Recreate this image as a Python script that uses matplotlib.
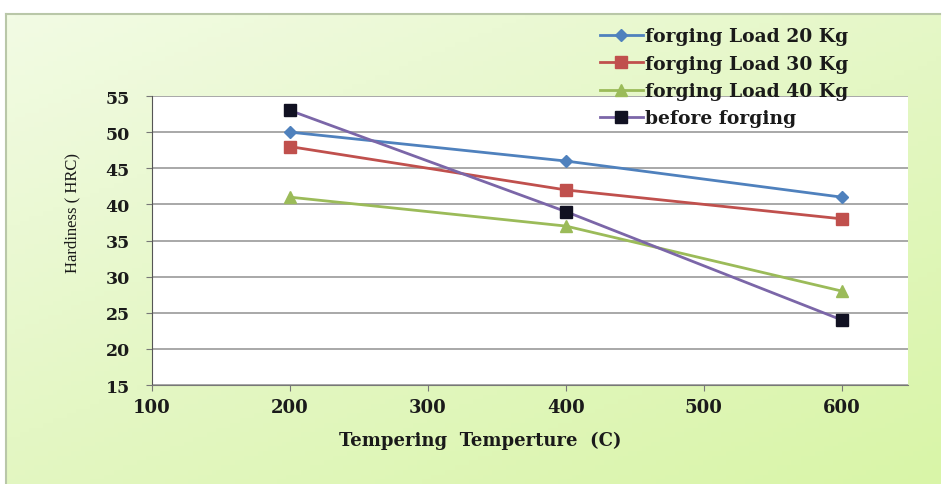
import numpy as np
import matplotlib.pyplot as plt
from matplotlib.colors import LinearSegmentedColormap

temps = [200, 400, 600]
load_20 = [50, 46, 41]
load_30 = [48, 42, 38]
load_40 = [41, 37, 28]
before = [53, 39, 24]
labels = ['forging Load 20 Kg', 'forging Load 30 Kg', 'forging Load 40 Kg', 'before forging']
x_ticks = [100, 200, 300, 400, 500, 600]
y_ticks = [15, 20, 25, 30, 35, 40, 45, 50, 55]

plt.rcParams['font.family'] = 'DejaVu Serif'
plt.rcParams['font.weight'] = 'bold'
plt.rcParams['xtick.labelsize'] = 13
plt.rcParams['ytick.labelsize'] = 12.5

fig = plt.figure(figsize=(9.44, 4.85), dpi=100)
fig.patch.set_facecolor('white')

# green gradient background of the chart picture
bg = fig.add_axes([0.006, 0.0, 0.99, 0.969])
cmap = LinearSegmentedColormap.from_list('bg', ['#f2fbe4', '#e4f7c4', '#d9f5a8'])
gx, gy = np.meshgrid(np.linspace(0, 1, 200), np.linspace(0, 1, 100))
bg.imshow(0.45 * gx + 0.55 * gy, cmap=cmap, aspect='auto', extent=[0, 1, 0, 1], origin='upper')
bg.set_xlim(0, 1)
bg.set_ylim(0, 1)
bg.set_xticks([])
bg.set_yticks([])
for s in ['top', 'left']:
    bg.spines[s].set_color('#b9c7a8')
    bg.spines[s].set_linewidth(1.5)
for s in ['bottom', 'right']:
    bg.spines[s].set_visible(False)

ax = fig.add_axes([0.161, 0.204, 0.801, 0.596])
ax.set_facecolor('white')

ax.plot(temps, load_20, color='#4f81bd', lw=2, marker='D', ms=6, mfc='#4f81bd', mec='#4f81bd', label=labels[0])
ax.plot(temps, load_30, color='#c0504d', lw=2, marker='s', ms=8, mfc='#c0504d', mec='#c0504d', label=labels[1])
ax.plot(temps, load_40, color='#9bbb59', lw=2, marker='^', ms=9, mfc='#9bbb59', mec='#9bbb59', label=labels[2])
ax.plot(temps, before, color='#7b66a8', lw=2, marker='s', ms=9, mfc='#111122', mec='#111122', label=labels[3])

ax.set_xlim(100, 648)
ax.set_ylim(15, 55)
ax.set_xticks(x_ticks)
ax.set_yticks(y_ticks)
ax.tick_params(axis='both', length=4, color='#777777', labelcolor='#1a1a1a')
ax.tick_params(axis='x', pad=5)
ax.tick_params(axis='y', pad=12)
ax.yaxis.grid(True, color='#9a9a9a', lw=1.2)
ax.set_axisbelow(True)
for s in ['top', 'right']:
    ax.spines[s].set_visible(False)
ax.spines['left'].set_color('#555555')
ax.spines['bottom'].set_color('#777777')

fig.text(0.077, 0.56, 'Hardiness ( HRC)', rotation=90, ha='center', va='center',
         fontfamily='Liberation Serif', fontweight='normal', fontsize=12, color='#1a1a1a')
fig.text(0.509, 0.092, 'Tempering  Temperture  (C)', ha='center', va='center',
         fontfamily='DejaVu Serif', fontweight='bold', fontsize=13, color='#1a1a1a')

leg = ax.legend(loc='upper left', bbox_to_anchor=(0.58, 1.27), frameon=False,
                prop={'family': 'DejaVu Serif', 'weight': 'bold', 'size': 13.5},
                handlelength=2.3, handletextpad=0.1, labelspacing=0.5, borderpad=0)
for t in leg.get_texts():
    t.set_color('#1a1a1a')

fig.savefig('out.png', dpi=100, facecolor=fig.get_facecolor())
